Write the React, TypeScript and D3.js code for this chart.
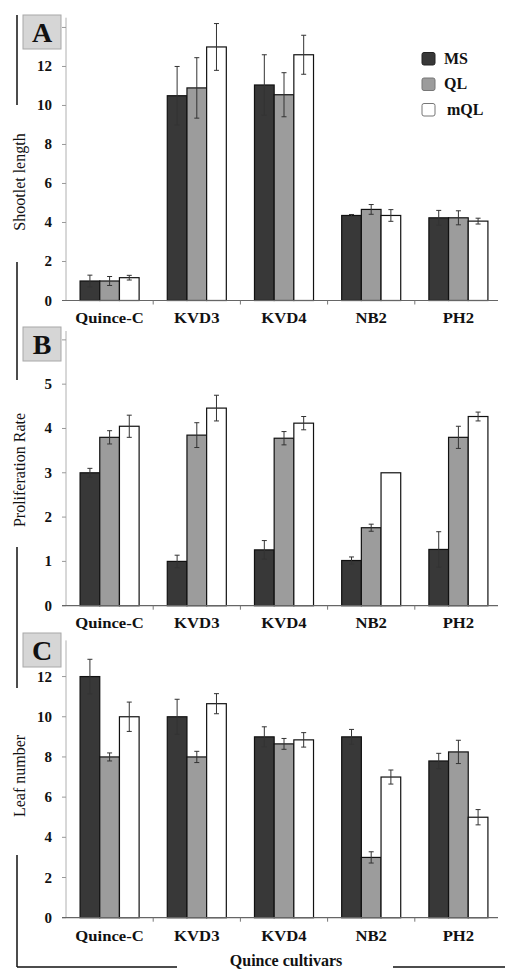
import React from "react";
import * as d3 from "d3";

const categories = ["Quince-C", "KVD3", "KVD4", "NB2", "PH2"];
const seriesNames = ["MS", "QL", "mQL"];

const shootMS = [1.0, 10.5, 11.05, 4.36, 4.24];
const shootMSErr = [0.3, 1.5, 1.55, 0.05, 0.38];
const shootQL = [1.0, 10.9, 10.55, 4.67, 4.24];
const shootQLErr = [0.23, 1.55, 1.13, 0.25, 0.36];
const shootMQL = [1.17, 13.0, 12.6, 4.36, 4.07];
const shootMQLErr = [0.12, 1.2, 1.0, 0.3, 0.15];

const prolMS = [3.0, 1.0, 1.26, 1.02, 1.27];
const prolMSErr = [0.1, 0.14, 0.21, 0.08, 0.4];
const prolQL = [3.8, 3.85, 3.78, 1.76, 3.8];
const prolQLErr = [0.15, 0.28, 0.15, 0.08, 0.25];
const prolMQL = [4.05, 4.46, 4.12, 3.0, 4.27];
const prolMQLErr = [0.25, 0.29, 0.15, 0, 0.1];

const leafMS = [12, 10, 9, 9, 7.8];
const leafMSErr = [0.86, 0.87, 0.5, 0.37, 0.38];
const leafQL = [8, 8, 8.65, 3, 8.25];
const leafQLErr = [0.2, 0.28, 0.27, 0.28, 0.58];
const leafMQL = [10, 10.65, 8.85, 7, 5];
const leafMQLErr = [0.73, 0.5, 0.36, 0.35, 0.38];

const shootTicks = [0, 2, 4, 6, 8, 10, 12, 14];
const shootLabels = [0, 2, 4, 6, 8, 10, 12];
const prolTicks = [0, 1, 2, 3, 4, 5, 6];
const prolLabels = [0, 1, 2, 3, 4, 5];
const leafTicks = [0, 2, 4, 6, 8, 10, 12];
const leafLabels = [0, 2, 4, 6, 8, 10, 12];

const fills = ["#383838", "#9c9c9c", "#ffffff"];
const SERIF = "'Liberation Serif', 'Times New Roman', serif";

const X_LEFT = 66;
const X_RIGHT = 502;

type PanelCfg = {
  letter: string;
  yLabel: string;
  yLabelCy: number;
  domainMax: number;
  y0: number;
  yTop: number;
  ticks: number[];
  labels: number[];
  values: number[][];
  errors: number[][];
  xLabelY: number;
  boxY: number;
};

const panels: PanelCfg[] = [
  {
    letter: "A",
    yLabel: "Shootlet length",
    yLabelCy: 182,
    domainMax: 14.5,
    y0: 300.5,
    yTop: 17.7,
    ticks: shootTicks,
    labels: shootLabels,
    values: [shootMS, shootQL, shootMQL],
    errors: [shootMSErr, shootQLErr, shootMQLErr],
    xLabelY: 323,
    boxY: 15,
  },
  {
    letter: "B",
    yLabel: "Proliferation Rate",
    yLabelCy: 470,
    domainMax: 6.2,
    y0: 605.7,
    yTop: 331,
    ticks: prolTicks,
    labels: prolLabels,
    values: [prolMS, prolQL, prolMQL],
    errors: [prolMSErr, prolQLErr, prolMQLErr],
    xLabelY: 628,
    boxY: 327,
  },
  {
    letter: "C",
    yLabel: "Leaf number",
    yLabelCy: 776,
    domainMax: 13.8,
    y0: 917.7,
    yTop: 640.4,
    ticks: leafTicks,
    labels: leafLabels,
    values: [leafMS, leafQL, leafMQL],
    errors: [leafMSErr, leafQLErr, leafMQLErr],
    xLabelY: 941,
    boxY: 633,
  },
];

function Panel({ p }: { p: PanelCfg }) {
  const x0 = d3.scaleBand<string>().domain(categories).range([X_LEFT, X_RIGHT]);
  const groupW = x0.bandwidth() * 0.677;
  const x1 = d3.scaleBand<string>().domain(seriesNames).range([0, groupW]);
  const y = d3.scaleLinear().domain([0, p.domainMax]).range([p.y0, p.yTop]);
  const off = (x0.bandwidth() - groupW) / 2;
  return (
    <g>
      {/* y axis */}
      <line x1={X_LEFT} x2={X_LEFT} y1={p.yTop} y2={p.y0} stroke="#b0b0b0" strokeWidth={1} />
      {p.ticks.map((t) => (
        <line key={"t" + t} x1={X_LEFT - 4} x2={X_LEFT} y1={y(t)} y2={y(t)} stroke="#999" strokeWidth={1} />
      ))}
      {p.labels.map((t) => (
        <text
          key={"l" + t}
          x={52}
          y={y(t) + 5}
          textAnchor="end"
          fontFamily={SERIF}
          fontWeight="bold"
          fontSize={15}
          fill="#111"
        >
          {t}
        </text>
      ))}
      {/* bars */}
      {categories.map((c, ci) => (
        <g key={c}>
          {seriesNames.map((s, si) => {
            const v = p.values[si][ci];
            const e = p.errors[si][ci];
            const bx = (x0(c) as number) + off + (x1(s) as number);
            const bw = x1.bandwidth();
            const cx = bx + bw / 2;
            return (
              <g key={s}>
                <rect
                  x={bx}
                  y={y(v)}
                  width={bw}
                  height={p.y0 - y(v)}
                  fill={fills[si]}
                  stroke="#111"
                  strokeWidth={1.2}
                />
                {e > 0 && (
                  <g stroke="#333" strokeWidth={1}>
                    <line x1={cx} x2={cx} y1={y(v + e)} y2={y(v - e)} />
                    <line x1={cx - 2.5} x2={cx + 2.5} y1={y(v + e)} y2={y(v + e)} />
                    <line x1={cx - 2.5} x2={cx + 2.5} y1={y(v - e)} y2={y(v - e)} />
                  </g>
                )}
              </g>
            );
          })}
        </g>
      ))}
      {/* x axis */}
      <line x1={X_LEFT - 4} x2={X_RIGHT - 4} y1={p.y0} y2={p.y0} stroke="#666" strokeWidth={1.2} />
      {categories.map((c, ci) =>
        ci > 0 ? (
          <line
            key={"xt" + c}
            x1={x0(c) as number}
            x2={x0(c) as number}
            y1={p.y0}
            y2={p.y0 + 4}
            stroke="#777"
            strokeWidth={1}
          />
        ) : null
      )}
      {categories.map((c) => (
        <text
          key={"xl" + c}
          transform={`translate(${(x0(c) as number) + x0.bandwidth() / 2},${p.xLabelY}) scale(1.15,1)`}
          textAnchor="middle"
          fontFamily={SERIF}
          fontWeight="bold"
          fontSize={14.5}
          fill="#111"
        >
          {c}
        </text>
      ))}
      {/* y label */}
      <text
        transform={`translate(25,${p.yLabelCy}) rotate(-90)`}
        textAnchor="middle"
        fontFamily={SERIF}
        fontSize={16}
        fill="#111"
      >
        {p.yLabel}
      </text>
      {/* panel letter */}
      <rect x={23} y={p.boxY} width={38} height={34} fill="#d6d6d6" stroke="#a8a8a8" strokeWidth={1} />
      <text
        x={42}
        y={p.boxY + 27}
        textAnchor="middle"
        fontFamily={SERIF}
        fontWeight="bold"
        fontSize={28}
        fill="#111"
      >
        {p.letter}
      </text>
    </g>
  );
}

const legendY = [52.5, 78, 103.5];

export default function App() {
  return (
    <svg
      width={505}
      height={969}
      style={{ position: "absolute", left: 0, top: 0, background: "#fff" }}
    >
      <rect x={0} y={0} width={505} height={969} fill="#fff" />
      {panels.map((p) => (
        <Panel key={p.letter} p={p} />
      ))}
      {/* legend */}
      {seriesNames.map((s, i) => (
        <g key={s}>
          <rect
            x={422}
            y={legendY[i]}
            width={13}
            height={12.5}
            rx={2}
            fill={fills[i]}
            stroke={i === 0 ? "#222" : "#777"}
            strokeWidth={1}
          />
          <text
            x={i === 2 ? 447 : 444}
            y={legendY[i] + 11}
            fontFamily={SERIF}
            fontWeight="bold"
            fontSize={16}
            fill="#111"
          >
            {s}
          </text>
        </g>
      ))}
      {/* frame lines */}
      <g stroke="#111" strokeWidth={1.5}>
        <line x1={17} x2={17} y1={15} y2={105} />
        <line x1={17} x2={17} y1={262} y2={380} />
        <line x1={17} x2={17} y1={547} y2={688} />
        <line x1={17} x2={17} y1={855} y2={967} />
        <line x1={17} x2={177} y1={967} y2={967} />
        <line x1={393} x2={505} y1={967} y2={967} />
      </g>
      <text
        x={286}
        y={966}
        textAnchor="middle"
        fontFamily={SERIF}
        fontWeight="bold"
        fontSize={16}
        fill="#111"
      >
        Quince cultivars
      </text>
    </svg>
  );
}
